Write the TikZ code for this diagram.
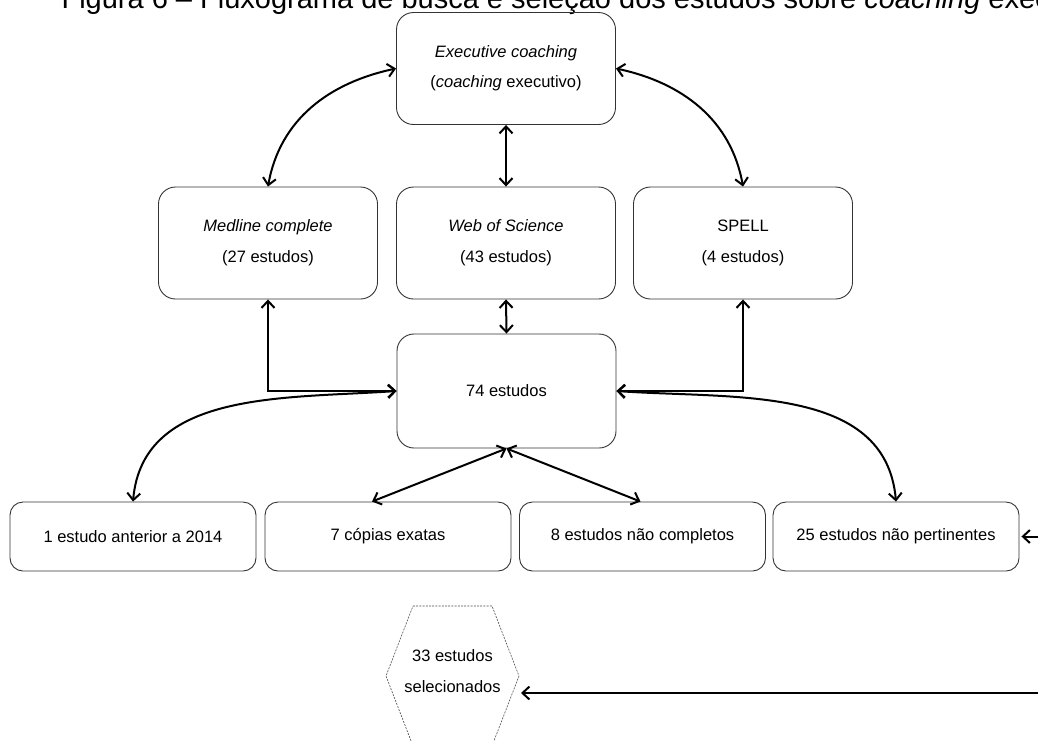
\documentclass[tikz,border=0pt]{standalone}
\usepackage{fontspec}
\setmainfont{Liberation Sans}
\usepackage{xcolor}
\usetikzlibrary{arrows.meta,calc}

\tikzset{
  caixa/.style={draw=black!80, line width=0.9pt, rounded corners=17pt,
    minimum width=219pt, minimum height=112pt, align=center, inner sep=0pt,
    font=\fontsize{16.5}{20}\selectfont},
  baixa/.style={caixa, minimum width=246pt, minimum height=69pt, rounded corners=13pt},
  liga/.style={{Straight Barb[length=7pt,width=13pt]}-{Straight Barb[length=7pt,width=13pt]},
    line width=2pt},
  entra/.style={-{Straight Barb[length=7pt,width=13pt]}, line width=2pt}
}

\begin{document}
\begin{tikzpicture}[x=1pt,y=1pt]
    \useasboundingbox (0,0) rectangle (1038,-740);
    \clip (0,0) rectangle (1038,-740);
    \node[anchor=base west, font=\fontsize{29}{30}\selectfont] (titulo) at (58,-8)
      {Figura 6 -- Fluxograma de busca e seleção dos estudos sobre \textit{coaching} executivo};

    % bases
    \node[caixa] (exec) at (506,-68.5) {\textit{Executive coaching}\\[10pt](\textit{coaching} executivo)};
    \node[caixa] (medline) at (268,-243) {\textit{Medline complete}\\[11pt](27 estudos)};
    \node[caixa] (wos) at (506,-243) {\textit{Web of Science}\\[11pt](43 estudos)};
    \node[caixa] (spell) at (743,-243) {SPELL\\[11pt](4 estudos)};
    \node[caixa, minimum height=114pt] (total) at (506.5,-391) {74 estudos};

    % exclusoes
    \node[baixa] (anterior) at (133,-536.5) {1 estudo anterior a 2014};
    \node[baixa] (copias) at (388,-536.5) {7 cópias exatas};
    \node[baixa] (incompletos) at (642.5,-536.5) {8 estudos não completos};
    \node[baixa] (impertinentes) at (896,-536.5) {25 estudos não pertinentes};

    % selecionados
    \node[align=center, font=\fontsize{16.5}{20}\selectfont] (sel) at (452.5,-671) {33 estudos\\[11pt]selecionados};
    \coordinate (h1) at (413,-606);
    \coordinate (h2) at (492,-606);
    \coordinate (h3) at (519,-676);
    \coordinate (h4) at (492,-746);
    \coordinate (h5) at (413,-746);
    \coordinate (h6) at (386,-676);
    \draw[black!70, line width=0.6pt, dash pattern=on 2pt off 1.2pt] (h1) -- (h2) -- (h3) -- (h4) -- (h5) -- (h6) -- cycle;

    \draw[liga] (medline.north) to[out=80,in=192] (exec.west);
    \draw[liga] (exec.east) to[out=-12,in=100] (spell.north);
    \draw[liga] (exec.south) -- (wos.north);
    \draw[liga] (wos.south) -- (total.north);
    \draw[liga] (medline.south) |- (total.west);
    \draw[liga] (spell.south) |- (total.east);

    \draw[liga] (total.west) to[out=184,in=85] (anterior.north);
    \draw[liga] (total.east) to[out=-4,in=95] (impertinentes.north);
    \draw[liga] (total.south) -- ([xshift=-16pt]copias.north);
    \draw[liga] (total.south) -- ([xshift=-2pt]incompletos.north);

    \coordinate (fora1) at (1045,-536.5);
    \draw[entra] (fora1) -- ([xshift=2pt]impertinentes.east);
    \coordinate (fora2) at (1045,-693);
    \coordinate (hexe) at (521,-693);
    \draw[entra] (fora2) -- (hexe);
\end{tikzpicture}
\end{document}
